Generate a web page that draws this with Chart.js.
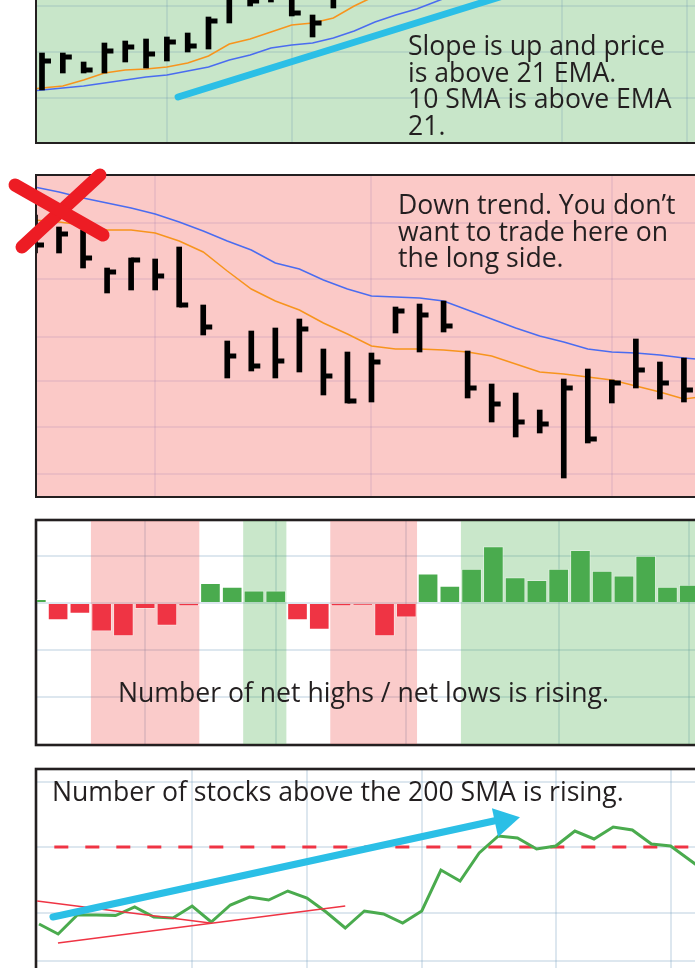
<!DOCTYPE html>
<html>
<head>
<meta charset="utf-8">
<script src="https://cdn.jsdelivr.net/npm/chart.js@4.4.1/dist/chart.umd.min.js"></script>
<style>
  html, body { margin: 0; padding: 0; background: #fff; }
  body { position: relative; width: 695px; height: 968px; overflow: hidden; font-family: "Open Sans", sans-serif; }
  canvas { position: absolute; left: 0; }
  .note { position: absolute; font-size: 26.6px; line-height: 26.7px; color: #231f20; white-space: nowrap; z-index: 2; }
</style>
</head>
<body>
<canvas id="trendUp"></canvas>
<canvas id="trendDown"></canvas>
<canvas id="netHighs"></canvas>
<canvas id="above200"></canvas>

<div class="note" style="left:408px;top:32px">Slope is up and price<br>is above 21 EMA.<br>10 SMA is above EMA<br>21.</div>
<div class="note" style="left:398px;top:191px">Down trend. You don’t<br>want to trade here on<br>the long side.</div>
<div class="note" style="left:118px;top:679px">Number of net highs / net lows is rising.</div>
<div class="note" style="left:52px;top:778px">Number of stocks above the 200 SMA is rising.</div>

<script>
// --- panel 1: up trend (price bars + averages) ---
const upHigh  = [null, 44.5, 44.5, 40, 49.5, 50.5, 51.5, 52.5, 54.5, 62.5, 82, 86, 88, 84, 63.5, 84];
const upLow   = [null, 26, 34.5, 34.5, 34.5, 40, 37, 40.5, 45, 46.5, 59.5, 68, 70, 63, 52.5, 67];
const upClose = [null, 40.5, 42.5, 36, 45.5, 47.5, 44, 50, 48, 60.5, 78, 70.5, 80, 64.5, 59.5, 78];
const upSma10 = [26, 27, 28, 31, 34.5, 36, 36.5, 37.5, 39.5, 43, 49, 51.5, 55, 58.5, 59.5, 62, 68, 73, 77];
const upEma21 = [25, 26, 27, 28, 29.5, 31, 32.5, 33.5, 35.5, 37.5, 41, 43.5, 47, 48.5, 49.5, 52, 55.5, 60, 63.5, 66.5, 70.5, 74.5];
const upSlope = [[7.54, 22.5], [23, 72.5]];
const upGridX = [7, 13, 26, 32];
const upGridY = [22, 45, 68, 91, 114, 137];

// --- panel 2: down trend ---
const dnHigh  = [140.5, 134.5, 133, 114, 119, 118.5, 124.5, 95.5, 77.5, 82.5, 84, 88.5, 73.5, 72, 71.5, 94.5, 96, 97.5, 72.5, 56, 51.5, 43, 58.5, 63.5, 58, 78.5, 67, 69];
const dnLow   = [121.5, 121.5, 114, 101.5, 103, 103, 94.5, 80.5, 59, 62.5, 59, 62, 50.5, 46.5, 47, 81.5, 72, 82, 49, 37, 29.5, 31.5, 9, 26.5, 46.5, 54, 48.5, 47];
const dnClose = [125.5, 131, 119, 112, 118, 110, 95.5, 84.5, 70, 65, 67.5, 83.5, 60, 47.5, 67, 92.5, 90.5, 85, 54, 46, 37, 36, 54, 28.5, 56.5, 63, 56.5, 53];
const dnEma21 = [154.5, 152, 149, 146.5, 144, 141, 137, 132.5, 127.5, 123, 116.5, 113.5, 108, 103.5, 100, 99.5, 99, 97.5, 93, 88.5, 84, 80, 77, 73.5, 72, 71.5, 70.5, 69, 68];
const dnSma10 = [138, 137, 135.5, 133, 133, 131.5, 127.5, 122, 112.5, 103.5, 97.5, 93, 86.5, 81, 75, 73.5, 73.5, 73, 72, 70, 66, 62, 61, 59.5, 58, 55, 52, 48.5, 50];
const dnCross1 = [[-0.83, 155.5], [2.83, 130.5]];
const dnCross2 = [[2.70, 160.5], [-0.54, 124.5]];
const dnGridX = [5, 14, 24];
const dnGridY = [11, 34.5, 57.5, 79.5, 108.5, 136.5];

// --- panel 3: net new highs / lows (one bar per week) ---
const netValues = [4, -18, -11, -30, -35, -6, -24, -3, 21, 17, 13, 13, -18, -28, -3, -2, -35, -15, 31, 18, 36, 60, 27, 24, 36, 56, 34, 29, 50, 17, 19, 22];
const netBands  = ['', '', '', 'r', 'r', 'r', 'r', 'r', '', '', 'g', 'g', '', '', 'r', 'r', 'r', 'r', '', '', 'g', 'g', 'g', 'g', 'g', 'g', 'g', 'g', 'g', 'g', 'g', 'g'];
const netGridX  = [5, 11, 17, 24, 30];
const netGridY  = [-100, -50, 0, 50];
const netMin = -150, netMax = 87.2;

// --- panel 4: % of stocks above 200 SMA ---
const above200 = [41.5, 39, 43.75, 43.75, 43.6, 45.75, 43.25, 43, 46, 42, 46.25, 48.25, 47.5, 49.75, 48, 44.5, 40.5, 44.75, 44, 41.75, 44.75, 55, 52.25, 59.25, 63.5, 63, 60.25, 61, 64.75, 62.75, 65.75, 65, 61.5, 61, 57.5, 54];
const level200 = 60.75;
const levelSpan = [0.8, 36];
const trendA = [[-0.1, 47.25], [8.94, 41.75]];
const trendB = [[0.99, 36.75], [16, 46]];
const arrowLine = [[0.73, 43.25], [24, 67.5]];
const arrowHead = [24.26, 67.3];
const abGridX = [8, 14, 20, 27, 33];
const abGridY = [32.25, 44.25, 60.75, 77];

const INK = '#231f20', CYAN = '#2bbfe6', RED = '#ef3444', GREEN = '#4aab4e';
const ORANGE = '#f7941d', BLUE = '#4a6cf0';

const pts = arr => arr.map(p => ({ x: p[0], y: p[1] }));
const series = arr => arr.map((v, i) => ({ x: i, y: v }));

function frame(bg, lw) {
  return {
    id: 'frame',
    beforeDraw(c) {
      const a = c.chartArea, g = c.ctx;
      g.save(); g.fillStyle = bg; g.fillRect(a.left, a.top, a.width, a.height); g.restore();
    },
    beforeDatasetsDraw(c) {
      const a = c.chartArea, g = c.ctx;
      g.save(); g.strokeStyle = INK; g.lineWidth = lw;
      g.strokeRect(a.left - 1, a.top - 1, a.width + 2, a.height + 2); g.restore();
    }
  };
}

function axis(min, max, values, color) {
  return {
    type: 'linear', offset: false, min, max,
    ticks: { display: false },
    border: { display: false },
    grid: { color, lineWidth: 2, drawTicks: false, offset: false },
    afterBuildTicks: sc => { sc.ticks = values.map(v => ({ value: v })); },
    afterFit: sc => { if (sc.isHorizontal()) sc.height = 0; else sc.width = 0; }
  };
}

function setup(id, top, pad, xmin, xmax, step, plotH) {
  const cv = document.getElementById(id);
  cv.width = Math.round(pad.left + (xmax - xmin) * step + pad.right);
  cv.height = pad.top + plotH + pad.bottom;
  cv.style.top = top + 'px';
  return cv;
}

const baseOpts = (pad, scales) => ({
  responsive: false, animation: false, devicePixelRatio: 1, events: [],
  layout: { padding: pad, autoPadding: false },
  plugins: { legend: { display: false }, tooltip: { enabled: false } },
  scales
});

function ohlc(high, low, close) {
  return [
    { type: 'bar', order: 2, backgroundColor: '#000', barThickness: 5,
      data: high.map((h, i) => ({ x: i, y: [low[i], h] })).filter(d => d.y[1] != null) },
    { type: 'line', order: 2, showLine: false, pointStyle: 'dash', pointRadius: 9,
      pointBorderWidth: 5, pointBorderColor: '#000', pointBackgroundColor: '#000',
      data: series(close) }
  ];
}

const avg = (vals, color) => ({ type: 'line', order: 3, data: series(vals), borderColor: color,
  borderWidth: 1.5, pointRadius: 0, tension: 0 });

// panel 1
{
  const pad = { left: 37, right: 0, top: 12, bottom: 4 };
  const cv = setup('trendUp', -190, pad, 0.76, 33, 20.8, 320);
  const grid = 'rgba(110,150,180,0.2)';
  new Chart(cv, {
    type: 'line',
    data: { datasets: [
      ...ohlc(upHigh, upLow, upClose),
      avg(upSma10, ORANGE), avg(upEma21, BLUE),
      { type: 'line', order: 1, data: pts(upSlope), borderColor: CYAN, borderWidth: 7,
        borderCapStyle: 'round', pointRadius: 0 }
    ]},
    options: baseOpts(pad, {
      x: axis(0.76, 33, upGridX, grid),
      y: axis(0, 160, upGridY, grid)
    }),
    plugins: [frame('#c8e6c9', 2)]
  });
}

// panel 2
{
  const pad = { left: 37, right: 0, top: 16, bottom: 4 };
  const cv = setup('trendDown', 160, pad, 0.084, 29, 24.04, 320);
  const grid = 'rgba(150,110,170,0.14)';
  const cross = d => ({ type: 'line', order: 0, clip: false, data: pts(d), borderColor: '#ed1c24',
    borderWidth: 13, borderCapStyle: 'round', pointRadius: 0 });
  new Chart(cv, {
    type: 'line',
    data: { datasets: [
      ...ohlc(dnHigh, dnLow, dnClose),
      avg(dnSma10, ORANGE), avg(dnEma21, BLUE),
      cross(dnCross1), cross(dnCross2)
    ]},
    options: baseOpts(pad, {
      x: axis(0.084, 29, dnGridX, grid),
      y: axis(0, 160, dnGridY, grid)
    }),
    plugins: [frame('#fbc9c7', 2)]
  });
}

// panel 3
{
  const pad = { left: 37, right: 0, top: 6, bottom: 4 };
  const xmin = 0.03, xmax = netValues.length - 1;
  const cv = setup('netHighs', 515, pad, xmin, xmax, 21.77, 223);
  const grid = 'rgba(120,160,190,0.25)';
  // shaded bands: one filled polygon per run of equal flags
  const bands = [];
  netBands.forEach((b, i) => {
    if (!b) return;
    const last = bands[bands.length - 1];
    if (last && last.flag === b && last.to === i - 1) last.to = i;
    else bands.push({ flag: b, from: i, to: i });
  });
  const bandSets = bands.map(r => ({
    type: 'line', order: 3, pointRadius: 0, borderWidth: 0, fill: 'start',
    backgroundColor: r.flag === 'r' ? 'rgba(239,83,80,0.3)' : 'rgba(76,175,80,0.3)',
    data: [{ x: r.from - 0.5, y: netMax }, { x: r.to + 0.5, y: netMax }]
  }));
  new Chart(cv, {
    type: 'bar',
    data: { datasets: [
      { type: 'bar', order: 1, data: series(netValues), barThickness: 20,
        backgroundColor: netValues.map(v => v >= 0 ? GREEN : RED),
        borderColor: 'rgba(255,255,255,0.35)', borderWidth: 1 },
      ...bandSets
    ]},
    options: baseOpts(pad, {
      x: axis(xmin, xmax, netGridX, grid),
      y: axis(netMin, netMax, netGridY, grid)
    }),
    plugins: [frame('#ffffff', 2.6)]
  });
}

// panel 4
{
  const pad = { left: 37, right: 0, top: 6, bottom: 0 };
  const cv = setup('above200', 764, pad, -0.105, 36, 19.125, 320);
  const grid = 'rgba(120,160,190,0.25)';
  const thin = d => ({ type: 'line', order: 2, data: pts(d), borderColor: RED, borderWidth: 1.5, pointRadius: 0 });
  new Chart(cv, {
    type: 'line',
    data: { datasets: [
      { order: 4, data: pts([[levelSpan[0], level200], [levelSpan[1], level200]]), borderColor: RED,
        borderWidth: 3, borderDash: [14, 17], pointRadius: 0 },
      { order: 3, data: series(above200), borderColor: GREEN, borderWidth: 3, pointRadius: 0, tension: 0 },
      thin(trendA), thin(trendB),
      { order: 1, data: pts(arrowLine), borderColor: CYAN, borderWidth: 7, borderCapStyle: 'round', pointRadius: 0 },
      { order: 1, data: [{ x: arrowHead[0], y: arrowHead[1] }], showLine: false, pointStyle: 'triangle',
        pointRadius: 17, pointRotation: 78, pointBackgroundColor: CYAN, pointBorderWidth: 0 }
    ]},
    options: baseOpts(pad, {
      x: axis(-0.105, 36, abGridX, grid),
      y: axis(0, 80, abGridY, grid)
    }),
    plugins: [frame('#ffffff', 2.6)]
  });
}
</script>
</body>
</html>
